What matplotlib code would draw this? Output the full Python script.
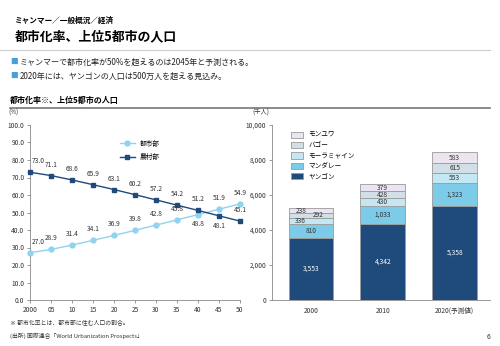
import numpy as np
import matplotlib
matplotlib.use("Agg")
import matplotlib.pyplot as plt

plt.rcParams['font.family'] = ['Noto Sans CJK JP', 'DejaVu Sans']

# 都市化率 (%)
years = np.arange(2000, 2051, 5)
year_labels = ['2000', '05', '10', '15', '20', '25', '30', '35', '40', '45', '50']
urban = [27.0, 28.9, 31.4, 34.1, 36.9, 39.8, 42.8, 45.8, 48.8, 51.9, 54.9]
rural = [73.0, 71.1, 68.6, 65.9, 63.1, 60.2, 57.2, 54.2, 51.2, 48.1, 45.1]

# 上位5都市の人口 (千人)
bar_labels = ['2000', '2010', '2020(予測値)']
cities = ['ヤンゴン', 'マンダレー', 'モーラミャイン', 'バゴー', 'モンユワ']
pop = {
    'ヤンゴン': [3553, 4342, 5358],
    'マンダレー': [810, 1033, 1323],
    'モーラミャイン': [336, 430, 553],
    'バゴー': [292, 428, 615],
    'モンユワ': [238, 379, 583],
}
colors = ['#1f4a7c', '#7ccbe8', '#c4e7f4', '#d3dfe7', '#ebe5f1']

fig = plt.figure(figsize=(5, 3.46), dpi=100)

def px(x, y):
    return x / 500, 1 - y / 346

# ヘッダー
fig.text(*px(15, 20), 'ミャンマー／一般概況／経済', fontsize=5.5, weight='bold', va='center')
fig.text(*px(15, 36), '都市化率、上位5都市の人口', fontsize=9.3, weight='bold', va='center')
fig.add_artist(plt.Line2D([0, 490 / 500], [1 - 50 / 346] * 2, color='#cccccc', lw=0.8))
fig.text(*px(10, 62), '■', fontsize=5.5, color='#4a9fd8', va='center')
fig.text(*px(20, 62), 'ミャンマーで都市化率が50%を超えるのは2045年と予測される。', fontsize=5.8, va='center', color='#222222')
fig.text(*px(10, 76), '■', fontsize=5.5, color='#4a9fd8', va='center')
fig.text(*px(20, 76), '2020年には、ヤンゴンの人口は500万人を超える見込み。', fontsize=5.8, va='center', color='#222222')
fig.text(*px(10, 100), '都市化率※、上位5都市の人口', fontsize=5.8, weight='bold', va='center')
fig.add_artist(plt.Line2D([10 / 500, 490 / 500], [1 - 108 / 346] * 2, color='#777777', lw=1.2))

# 左: 都市化率
ax1 = fig.add_axes([30 / 500, 1 - 300 / 346, 210 / 500, 175 / 346])
ax1.plot(years, urban, color='#8fd3f0', marker='o', ms=3.5, lw=1, label='都市部', clip_on=False, zorder=3)
ax1.plot(years, rural, color='#1f4a7c', marker='s', ms=3.5, lw=1, label='農村部', clip_on=False, zorder=3)
for i, (x, u, r) in enumerate(zip(years, urban, rural)):
    dx = 6 if i == 0 else 0
    uy = -10 if u == 48.8 else 5
    ry = -10 if r == 48.1 else 5
    ax1.annotate(f'{u:.1f}', (x, u), xytext=(dx, uy), textcoords='offset points',
                 ha='center', va='bottom', fontsize=4.8, color='#333333')
    ax1.annotate(f'{r:.1f}', (x, r), xytext=(dx, ry), textcoords='offset points',
                 ha='center', va='bottom', fontsize=4.8, color='#333333')
ax1.set_xlim(2000, 2050)
ax1.set_ylim(0, 100)
ax1.set_xticks(years)
ax1.set_xticklabels(year_labels)
ax1.set_yticks(np.arange(0, 101, 10))
ax1.set_yticklabels([f'{v:.1f}' for v in np.arange(0, 101, 10)])
for s in ['top', 'right']:
    ax1.spines[s].set_visible(False)
for s in ['left', 'bottom']:
    ax1.spines[s].set_color('#888888')
    ax1.spines[s].set_linewidth(0.6)
ax1.tick_params(labelsize=4.8, colors='#888888', labelcolor='#333333', length=2, width=0.6, pad=2)
ax1.legend(loc='upper left', bbox_to_anchor=(0.4, 0.95), frameon=False, fontsize=4.8,
           handlelength=2.2, labelspacing=0.8)
fig.text(*px(8, 113), '(%)', fontsize=4.5, va='center', color='#333333')

# 右: 上位5都市の人口
ax2 = fig.add_axes([272 / 500, 1 - 300 / 346, 218 / 500, 175 / 346])
xpos = np.arange(len(bar_labels))
bottom = np.zeros(len(bar_labels))
for c, col in zip(cities, colors):
    vals = np.array(pop[c])
    ax2.bar(xpos, vals, 0.62, bottom=bottom, color=col, edgecolor='#9a9a9a', lw=0.6, label=c)
    for j, (v, b) in enumerate(zip(vals, bottom)):
        tx = xpos[j]
        if j == 0 and c in ('モーラミャイン', 'モンユワ'):
            tx -= 0.14
        elif j == 0 and c == 'バゴー':
            tx += 0.1
        ax2.text(tx, b + v / 2, f'{v:,}', ha='center', va='center', fontsize=4.8,
                 color='white' if c == 'ヤンゴン' else '#333333')
    bottom += vals
ax2.set_xlim(-0.54, 2.49)
ax2.set_ylim(0, 10000)
ax2.set_xticks(xpos)
ax2.set_xticklabels(bar_labels)
ax2.set_yticks(np.arange(0, 10001, 2000))
ax2.set_yticklabels([f'{v:,}' for v in range(0, 10001, 2000)])
for s in ['top', 'right']:
    ax2.spines[s].set_visible(False)
for s in ['left', 'bottom']:
    ax2.spines[s].set_color('#888888')
    ax2.spines[s].set_linewidth(0.6)
ax2.tick_params(axis='y', labelsize=4.8, colors='#888888', labelcolor='#333333', length=2, width=0.6, pad=2)
ax2.tick_params(axis='x', labelsize=4.8, labelcolor='#333333', length=0, pad=5)
h, l = ax2.get_legend_handles_labels()
ax2.legend(h[::-1], l[::-1], loc='upper left', bbox_to_anchor=(0.06, 1.0), frameon=False,
           fontsize=4.8, handlelength=1.8, handleheight=1.1, labelspacing=0.35)
fig.text(*px(252, 113), '(千人)', fontsize=4.5, va='center', color='#333333')

# 注記
fig.text(*px(10, 322), '※ 都市化率とは、都市部に住む人口の割合。', fontsize=4.2, va='center', color='#333333')
fig.text(*px(10, 336), '(出所) 国際連合「World Urbanization Prospects」', fontsize=4.2, va='center', color='#333333')
fig.text(*px(487, 337), '6', fontsize=5, va='center', color='#333333')

fig.savefig('out.png', dpi=100)
